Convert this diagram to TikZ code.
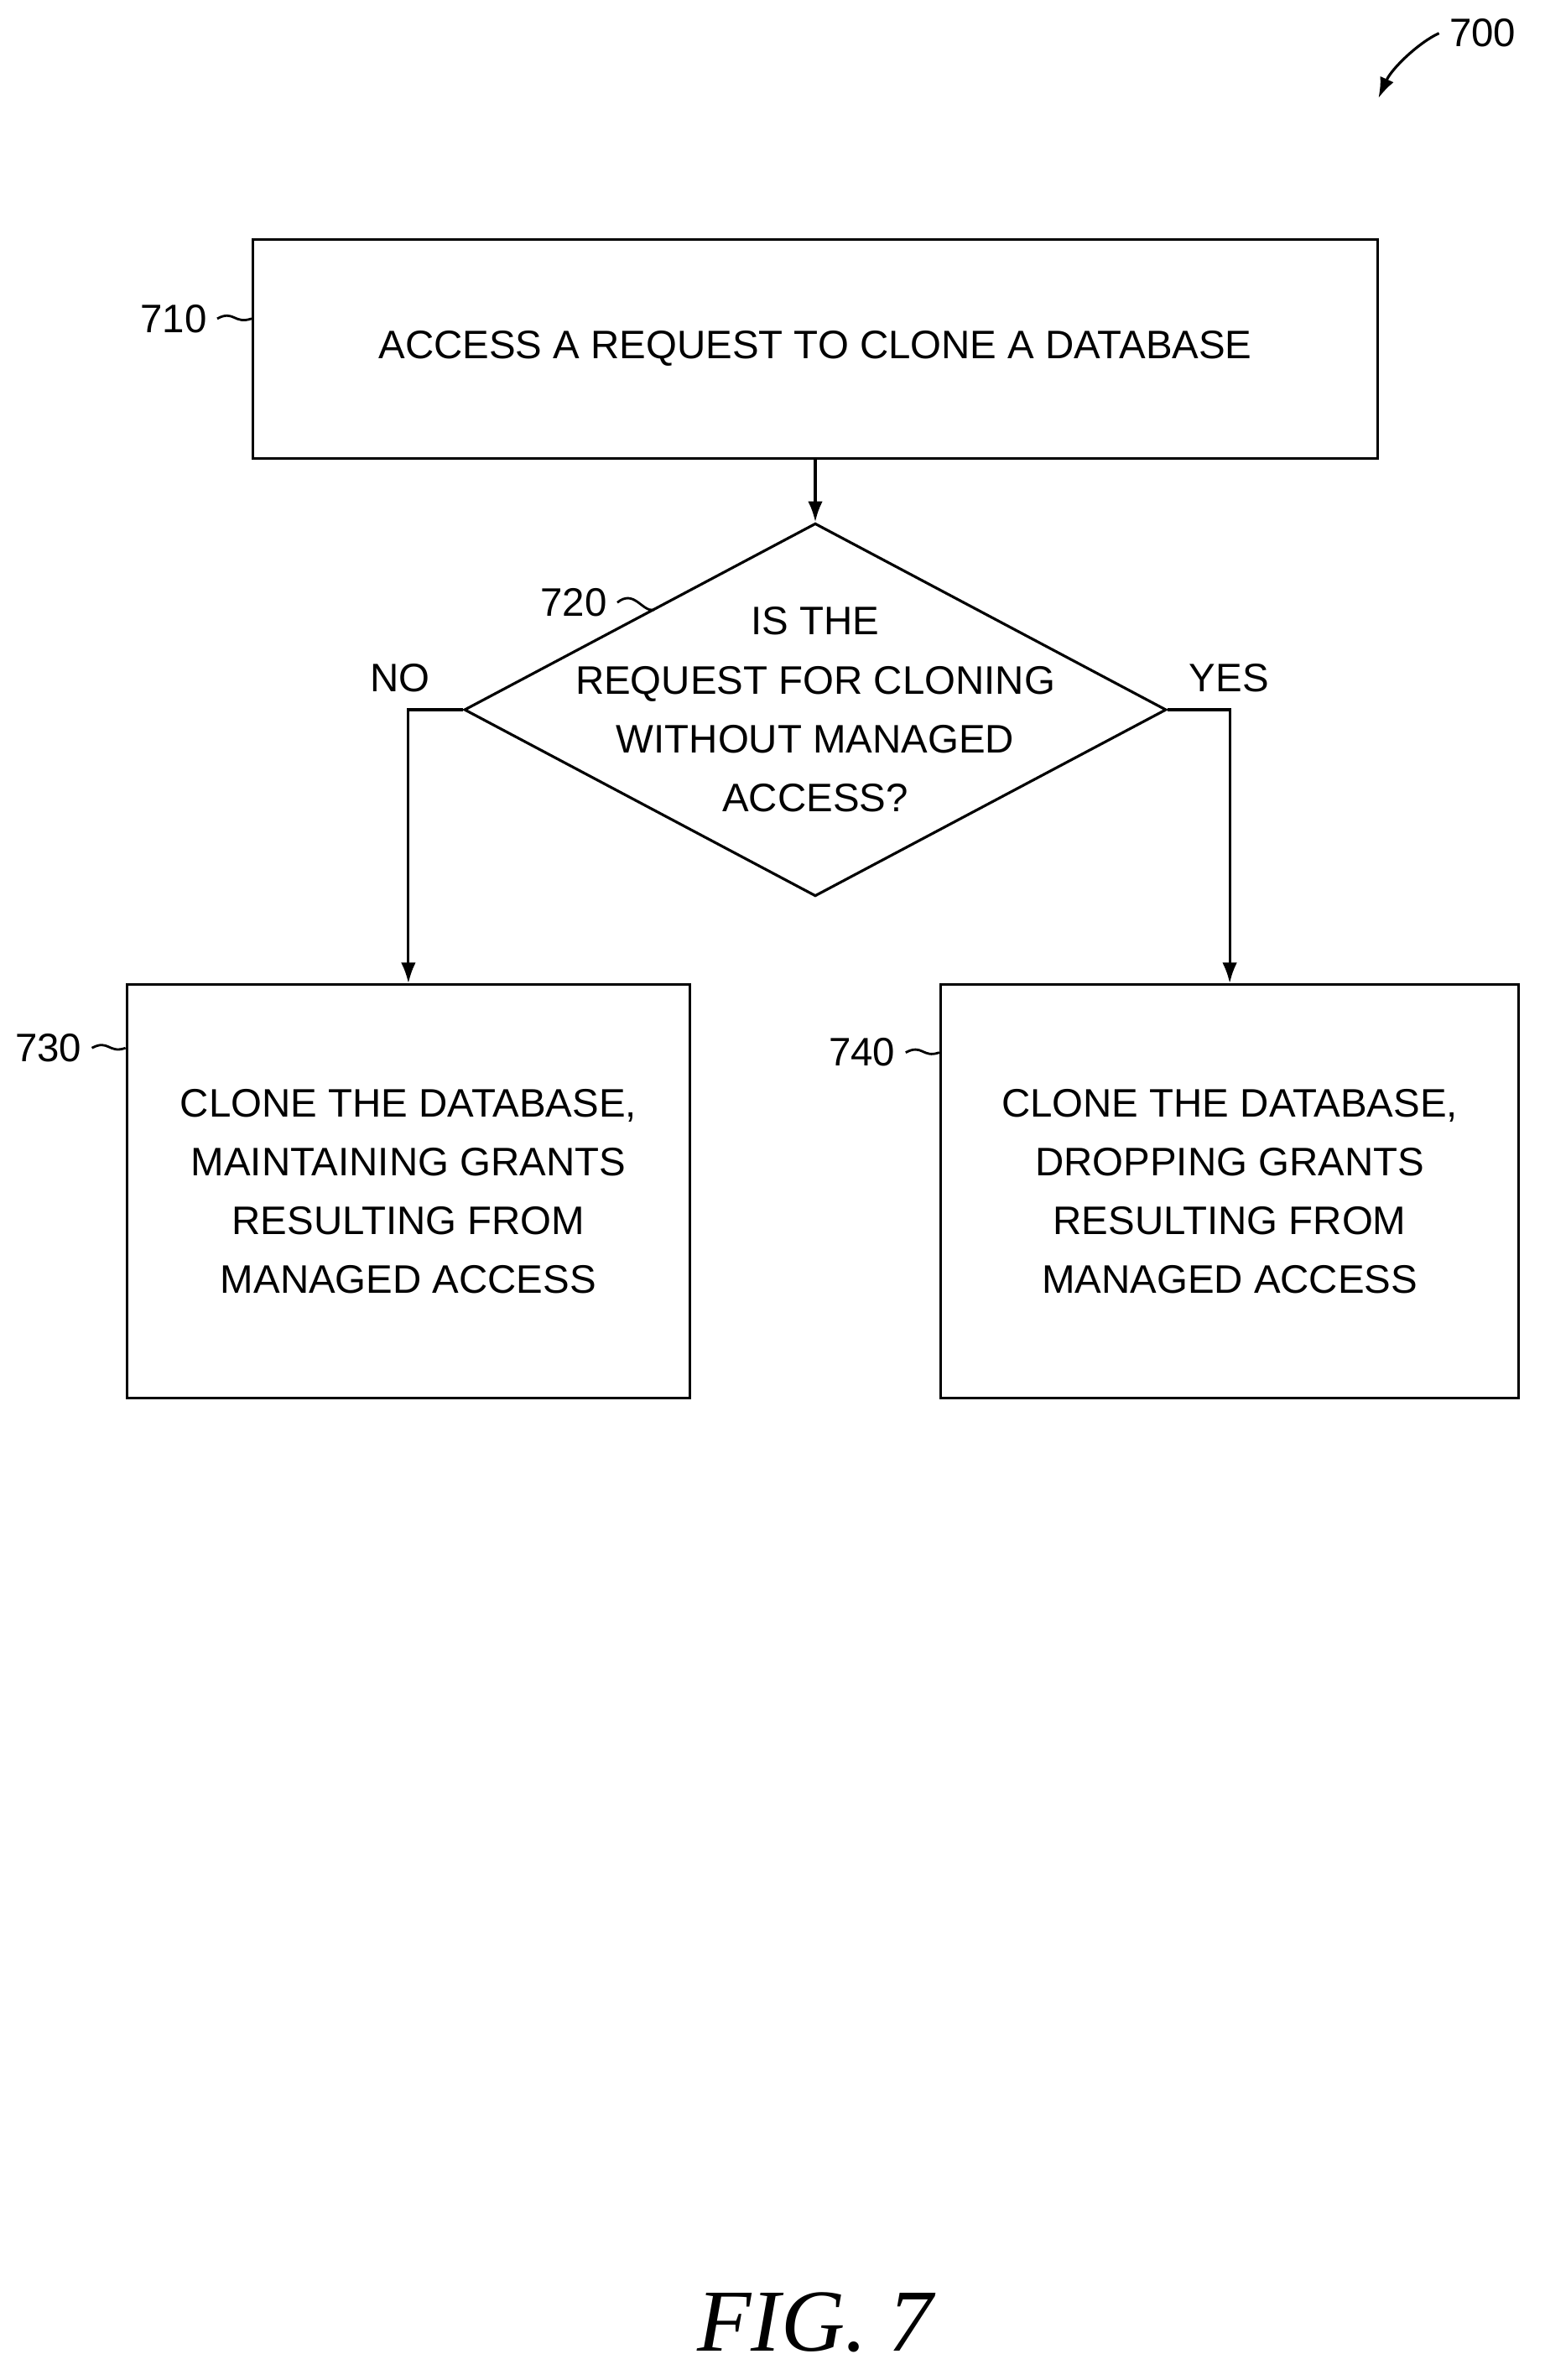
\documentclass[tikz,border=0pt]{standalone}
\usepackage{fontspec}
\setmainfont{Liberation Sans}
\newfontfamily\figfont{Liberation Serif}
\usetikzlibrary{shapes.geometric, positioning, arrows.meta}
\begin{document}
\begin{tikzpicture}[x=0.018cm,y=-0.018cm,
    every node/.style={font=\fontsize{13.5}{20}\selectfont},
    stepbox/.style={draw, line width=0.9pt, align=center, inner sep=0pt},
    decide/.style={draw, diamond, line width=0.9pt, align=center, inner sep=0pt},
    flow/.style={line width=0.9pt, -{Latex[length=7pt,width=5pt]}},
    lead/.style={line width=0.8pt}]
\useasboundingbox (0,0) rectangle (1023.3,1576.1);
% figure number
\node (n700) at (982,22) {700};
\coordinate (a700) at (913,65);
\draw[flow] (n700.west) .. controls (940,28) and (922,45) .. (a700);
% boxes
\node[stepbox, minimum width=745*0.018cm, minimum height=145*0.018cm] (s710) at (540,231) {ACCESS A REQUEST TO CLONE A DATABASE};
\node[decide, minimum width=465*0.018cm, minimum height=247*0.018cm, aspect=1.88] (s720) at (540,470) {};
\node[align=center] (t720) at (540,470) {IS THE\\REQUEST FOR CLONING\\WITHOUT MANAGED\\ACCESS?};
\node[stepbox, minimum width=373*0.018cm, minimum height=274*0.018cm] (s730) at (270.5,789) {CLONE THE DATABASE,\\MAINTAINING GRANTS\\RESULTING FROM\\MANAGED ACCESS};
\node[stepbox, minimum width=383*0.018cm, minimum height=274*0.018cm] (s740) at (814.5,789) {CLONE THE DATABASE,\\DROPPING GRANTS\\RESULTING FROM\\MANAGED ACCESS};
% connectors
\draw[flow] (s710.south) -- (s720.north);
\draw[flow] (s720.west) -| (s730.north);
\draw[flow] (s720.east) -| (s740.north);
\node (no) at (265,449) {NO};
\node (yes) at (814,449) {YES};
% reference numerals
\node (n710) at (115,211) {710};
\node (n720) at (380,399) {720};
\node (n730) at (32,694) {730};
\node (n740) at (571,697) {740};
\draw[lead] (n710.east) .. controls (155,205) and (155,215) .. (s710.west |- 0,211);
\draw[lead] (n720.east) .. controls (420,390) and (425,405) .. (433,404);
\draw[lead] (n730.east) .. controls (72,688) and (72,698) .. (s730.west |- 0,694);
\draw[lead] (n740.east) .. controls (611,691) and (611,701) .. (s740.west |- 0,697);
% caption
\node[font=\figfont\itshape\fontsize{30}{36}\selectfont] (cap) at (540,1538) {FIG. 7};
\end{tikzpicture}
\end{document}
